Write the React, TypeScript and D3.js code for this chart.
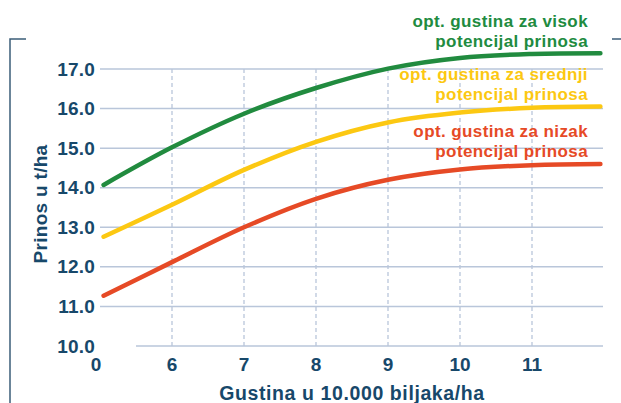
import * as d3 from 'd3';

const DENSITY = [5.05, 6, 7, 8, 9, 10, 11, 11.95];
const HIGH = [14.07, 15.02, 15.87, 16.52, 17.01, 17.28, 17.38, 17.4];
const MEDIUM = [12.76, 13.57, 14.45, 15.16, 15.65, 15.9, 16.02, 16.05];
const LOW = [11.27, 12.12, 13.0, 13.72, 14.2, 14.46, 14.57, 14.6];

const Y_TICKS = [10, 11, 12, 13, 14, 15, 16, 17];
const X_TICKS = [5, 6, 7, 8, 9, 10, 11];
const X_TICK_LABELS = ['0', '6', '7', '8', '9', '10', '11'];

const SERIES = [
  { name: 'visok', values: HIGH, color: '#218b3f', label: ['opt. gustina za visok', 'potencijal prinosa'], labelY: 27 },
  { name: 'srednji', values: MEDIUM, color: '#fcc812', label: ['opt. gustina za srednji', 'potencijal prinosa'], labelY: 80 },
  { name: 'nizak', values: LOW, color: '#e64a26', label: ['opt. gustina za nizak', 'potencijal prinosa'], labelY: 137 },
];

const INK = '#17486a';
const GRID = '#b9c6da';
const FONT = '"Liberation Sans", Arial, Helvetica, sans-serif';

export default function App() {
  const w = 621;
  const h = 403;

  const x = d3.scaleLinear().domain([5, 12]).range([100, 604]);
  const y = d3.scaleLinear().domain([10, 17]).range([346, 69]);

  const line = d3.line<number>()
    .x((_, i) => x(DENSITY[i]))
    .y(d => y(d))
    .curve(d3.curveCatmullRom.alpha(0.5));

  return (
    <svg width={w} height={h} style={{ position: 'absolute', left: 0, top: 0 }}>
      <rect width={w} height={h} fill="#fff" />

      {/* Bracket frame */}
      <path d="M26,39 H10 V403" fill="none" stroke="#3b5d78" strokeWidth={1.5} />
      <line x1={612} x2={621} y1={39} y2={39} stroke="#3b5d78" strokeWidth={1.5} />

      {/* Horizontal grid */}
      {Y_TICKS.map(t => (
        <g key={t}>
          <line
            x1={t === 10 ? 136 : x(5)} x2={x(12) - 1}
            y1={y(t)} y2={y(t)}
            stroke={GRID} strokeWidth={1.5}
          />
          <text
            x={95} y={y(t)}
            textAnchor="end" dominantBaseline="central"
            fontSize={19} fontWeight={700} fontFamily={FONT} fill={INK}
            letterSpacing={0.2}
          >
            {t.toFixed(1)}
          </text>
        </g>
      ))}

      {/* Vertical dashed grid */}
      {X_TICKS.map((t, i) => (
        <g key={t}>
          {t > 5 && (
            <line
              x1={x(t)} x2={x(t)} y1={y(17)} y2={y(10)}
              stroke={GRID} strokeWidth={1.3} strokeDasharray="4 3"
            />
          )}
          <text
            x={t === 5 ? x(t) - 4 : x(t)} y={371}
            textAnchor="middle"
            fontSize={19} fontWeight={700} fontFamily={FONT} fill={INK}
          >
            {X_TICK_LABELS[i]}
          </text>
        </g>
      ))}

      {/* Curves */}
      {SERIES.map(s => (
        <path
          key={s.name}
          d={line(s.values) ?? ''}
          fill="none" stroke={s.color} strokeWidth={4.5} strokeLinecap="round"
        />
      ))}

      {/* Series labels */}
      {SERIES.map(s => (
        <text
          key={s.name + '-label'}
          textAnchor="end" fontSize={17} fontWeight={700} fontFamily={FONT} fill={s.color}
          letterSpacing={0.4}
        >
          <tspan x={588} y={s.labelY}>{s.label[0]}</tspan>
          <tspan x={588} y={s.labelY + 20}>{s.label[1]}</tspan>
        </text>
      ))}

      {/* Axis titles */}
      <text
        transform="translate(47,204) rotate(-90)"
        textAnchor="middle"
        fontSize={19} fontWeight={700} fontFamily={FONT} fill={INK}
        letterSpacing={0.3}
      >
        Prinos u t/ha
      </text>
      <text
        x={352} y={400}
        textAnchor="middle"
        fontSize={19.5} fontWeight={700} fontFamily={FONT} fill={INK}
        letterSpacing={0.6}
      >
        Gustina u 10.000 biljaka/ha
      </text>
    </svg>
  );
}
